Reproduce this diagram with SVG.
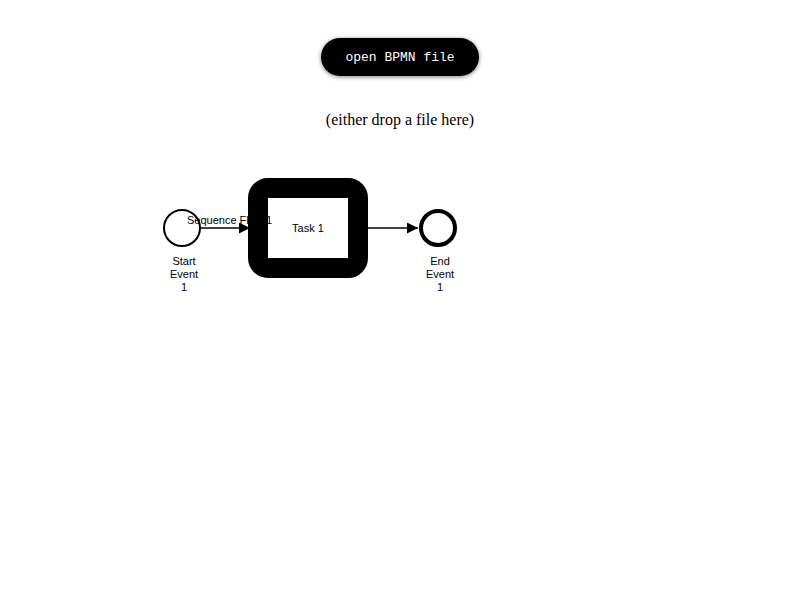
<svg xmlns="http://www.w3.org/2000/svg" width="800" height="600" viewBox="0 0 800 600">
<style>
.lbl{font-family:"Liberation Sans",Arial,sans-serif;font-size:11px;fill:#000}
.flow{stroke:#000;stroke-width:1.5;fill:none}
</style>
<defs>
<marker id="arr" viewBox="0 0 10 10" refX="10" refY="5" markerWidth="11" markerHeight="11" markerUnits="userSpaceOnUse" orient="auto"><path d="M0,0 L10,5 L0,10 z" fill="#000"/></marker>
<filter id="sh" x="-20%" y="-40%" width="140%" height="180%"><feDropShadow dx="0" dy="1" stdDeviation="2" flood-color="#000" flood-opacity="0.5"/></filter>
</defs>
<rect width="800" height="600" fill="#fff"/>
<g id="button">
<rect x="321" y="38" width="158" height="38" rx="19" fill="#000" filter="url(#sh)"/>
<text x="400" y="61" text-anchor="middle" font-family="'Liberation Mono','Courier New',monospace" font-size="13" fill="#fff">open BPMN file</text>
</g>
<text id="hint" x="400" y="125" text-anchor="middle" font-family="'Liberation Serif','Times New Roman',serif" font-size="16" fill="#000">(either drop a file here)</text>
<g id="start">
<circle cx="182" cy="228" r="18" fill="#fff" stroke="#000" stroke-width="2"/>
<text class="lbl" text-anchor="middle"><tspan x="184" y="265">Start</tspan><tspan x="184" y="278">Event</tspan><tspan x="184" y="291">1</tspan></text>
</g>
<g id="task">
<rect x="258" y="188" width="100" height="80" rx="10" fill="#fff" stroke="#000" stroke-width="20"/>
<text class="lbl" x="308" y="232" text-anchor="middle">Task 1</text>
</g>
<g id="connectors">
<line class="flow" x1="200" y1="228" x2="250" y2="228" marker-end="url(#arr)"/>
<text class="lbl" x="187" y="224">Sequence Flow 1</text>
<line class="flow" x1="368" y1="228" x2="418" y2="228" marker-end="url(#arr)"/>
</g>
<g id="end">
<circle cx="438" cy="228" r="17" fill="#fff" stroke="#000" stroke-width="4"/>
<text class="lbl" text-anchor="middle"><tspan x="440" y="265">End</tspan><tspan x="440" y="278">Event</tspan><tspan x="440" y="291">1</tspan></text>
</g>
</svg>
